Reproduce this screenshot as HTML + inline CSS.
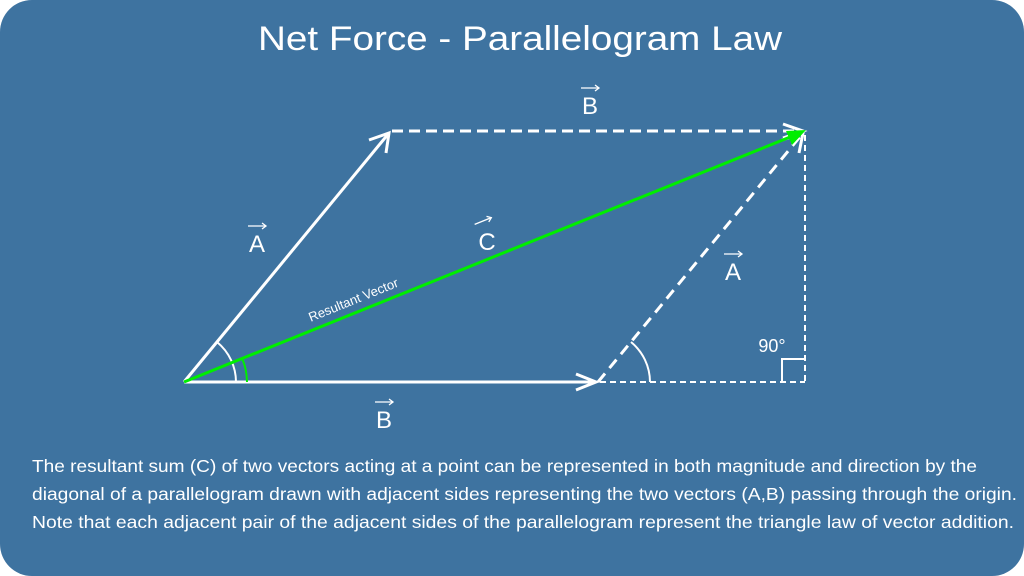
<!DOCTYPE html>
<html><head><meta charset="utf-8"><style>
html,body{margin:0;padding:0;background:#fff;}
svg{display:block}
text{font-family:"Liberation Sans",sans-serif;fill:#fff}
</style></head><body>
<svg width="1024" height="576" viewBox="0 0 1024 576">
<defs>
<g id="ar"><line x1="-9" y1="0" x2="9" y2="0" stroke="#fff" stroke-width="1.3"/><polyline points="5,-3 9,0 5,3" fill="none" stroke="#fff" stroke-width="1.3"/></g>
</defs>
<rect x="0" y="0" width="1024" height="576" rx="32" fill="#3e73a0"/>
<text x="258" y="50" font-size="34" textLength="524" lengthAdjust="spacingAndGlyphs">Net Force - Parallelogram Law</text>
<g stroke="#fff" stroke-width="3" fill="none">
<line x1="184" y1="382" x2="389" y2="133"/>
<polyline points="369,140 389,133 386,153"/>
<line x1="184" y1="382" x2="596" y2="382"/>
<polyline points="576,374 596,382 576,390"/>
<line x1="392" y1="131" x2="803" y2="131" stroke-dasharray="11,6"/>
<polyline points="783,124 803,131 783,138"/>
<line x1="598" y1="382" x2="803" y2="133" stroke-dasharray="11,7"/>
<polyline points="782,140 803,133 799,153"/>
</g>
<g stroke="#fff" stroke-width="2" fill="none">
<line x1="805" y1="135" x2="805" y2="382" stroke-dasharray="6,4"/>
<line x1="600" y1="382" x2="805" y2="382" stroke-dasharray="6,4"/>
<polyline points="782,382 782,359 805,359"/>
<path d="M217,342 A52,52 0 0 1 236,382"/>
<path d="M631,342 A52,52 0 0 1 650,382"/>
</g>
<line x1="184" y1="382" x2="800" y2="133" stroke="#00ee00" stroke-width="3"/>
<polygon points="806,130 786,131 792,145" fill="#00ee00"/>
<path d="M242,358 A63,63 0 0 1 247,382" stroke="#00ee00" stroke-width="2" fill="none"/>
<text x="590" y="114" font-size="24" text-anchor="middle">B</text><use href="#ar" x="590" y="88"/>
<text x="257" y="252" font-size="24" text-anchor="middle">A</text><use href="#ar" x="257" y="226"/>
<text x="487" y="250" font-size="24" text-anchor="middle">C</text><use href="#ar" x="483" y="221" transform="rotate(-22 483 221)"/>
<text x="733" y="280" font-size="24" text-anchor="middle">A</text><use href="#ar" x="733" y="254"/>
<text x="384" y="428" font-size="24" text-anchor="middle">B</text><use href="#ar" x="384" y="402"/>
<text x="355" y="304" font-size="13" text-anchor="middle" transform="rotate(-22 355 304)">Resultant Vector</text>
<text x="772" y="352" font-size="18" text-anchor="middle">90°</text>
<g font-size="17.5">
<text x="32" y="472" textLength="945" lengthAdjust="spacingAndGlyphs">The resultant sum (C) of two vectors acting at a point can be represented in both magnitude and direction by the</text>
<text x="32" y="500" textLength="985" lengthAdjust="spacingAndGlyphs">diagonal of a parallelogram drawn with adjacent sides representing the two vectors (A,B) passing through the origin.</text>
<text x="32" y="528" textLength="982" lengthAdjust="spacingAndGlyphs">Note that each adjacent pair of the adjacent sides of the parallelogram represent the triangle law of vector addition.</text>
</g>
</svg>
</body></html>
